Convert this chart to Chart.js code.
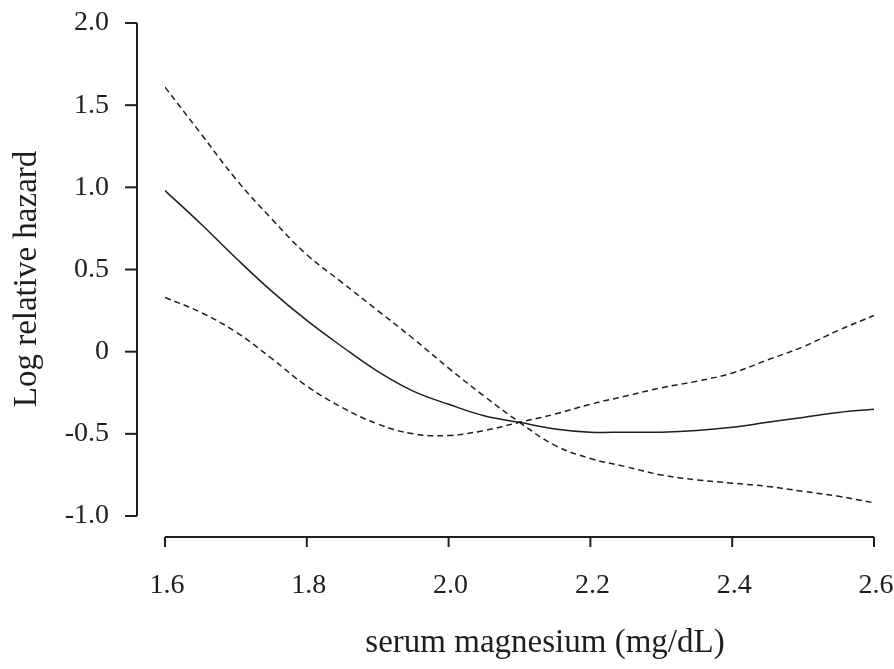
<!DOCTYPE html>
<html>
<head>
<meta charset="utf-8">
<script src="https://cdn.jsdelivr.net/npm/chart.js@4.4.1/dist/chart.umd.min.js"></script>
<style>
  html, body { margin: 0; padding: 0; background: #fff; }
  #wrap { width: 894px; height: 669px; }
</style>
</head>
<body>
<div id="wrap"><canvas id="hazardChart" width="894" height="669"></canvas></div>
<script>
// serum magnesium (mg/dL)
const magnesium = [1.60, 1.65, 1.70, 1.75, 1.80, 1.85, 1.90, 1.95, 2.00, 2.05, 2.10,
                   2.15, 2.20, 2.25, 2.30, 2.35, 2.40, 2.45, 2.50, 2.55, 2.60];
// log relative hazard estimate
const logHazard = [0.98, 0.78, 0.57, 0.37, 0.19, 0.03, -0.12, -0.24, -0.32, -0.39, -0.43,
                   -0.47, -0.49, -0.49, -0.49, -0.48, -0.46, -0.43, -0.40, -0.37, -0.35];
// confidence band
const upperBand = [1.61, 1.33, 1.05, 0.81, 0.59, 0.42, 0.25, 0.08, -0.10, -0.27, -0.43,
                   -0.57, -0.65, -0.70, -0.75, -0.78, -0.80, -0.82, -0.85, -0.88, -0.92];
const lowerBand = [0.33, 0.24, 0.12, -0.04, -0.21, -0.34, -0.44, -0.50, -0.51, -0.48, -0.43,
                   -0.38, -0.32, -0.27, -0.22, -0.18, -0.13, -0.05, 0.03, 0.13, 0.22];

const xTicks = [1.6, 1.8, 2.0, 2.2, 2.4, 2.6];
const xTickLabels = ['1.6', '1.8', '2.0', '2.2', '2.4', '2.6'];
const yTicks = [2.0, 1.5, 1.0, 0.5, 0, -0.5, -1.0];
const yTickLabels = ['2.0', '1.5', '1.0', '0.5', '0', '-0.5', '-1.0'];

const FONT = '"Liberation Serif", "Times New Roman", serif';
const INK = '#1e1e1e';

function toPoints(ys) {
    return magnesium.map((x, i) => ({ x, y: ys[i] }));
}

// R-style detached axes, drawn from the chart's scales
const detachedAxes = {
    id: 'detachedAxes',
    afterDraw(chart) {
        const ctx = chart.ctx;
        const xs = chart.scales.x;
        const ys = chart.scales.y;
        ctx.save();
        ctx.strokeStyle = INK;
        ctx.fillStyle = INK;
        ctx.lineWidth = 2;

        // y axis
        const axX = 137;
        ctx.beginPath();
        ctx.moveTo(axX, ys.getPixelForValue(yTicks[0]));
        ctx.lineTo(axX, ys.getPixelForValue(yTicks[yTicks.length - 1]));
        ctx.stroke();
        ctx.font = '28px ' + FONT;
        ctx.textAlign = 'right';
        ctx.textBaseline = 'middle';
        yTicks.forEach((v, i) => {
            const py = ys.getPixelForValue(v);
            ctx.beginPath();
            ctx.moveTo(axX, py);
            ctx.lineTo(axX - 12, py);
            ctx.stroke();
            ctx.fillText(yTickLabels[i], 109, py);
        });

        // x axis
        const axY = 537;
        ctx.beginPath();
        ctx.moveTo(xs.getPixelForValue(xTicks[0]), axY);
        ctx.lineTo(xs.getPixelForValue(xTicks[xTicks.length - 1]), axY);
        ctx.stroke();
        ctx.textAlign = 'center';
        ctx.textBaseline = 'alphabetic';
        xTicks.forEach((v, i) => {
            const px = xs.getPixelForValue(v);
            ctx.beginPath();
            ctx.moveTo(px, axY);
            ctx.lineTo(px, axY + 10);
            ctx.stroke();
            ctx.fillText(xTickLabels[i], px + 2, 593);
        });

        // axis titles
        ctx.font = '33px ' + FONT;
        ctx.fillText('serum magnesium (mg/dL)', 545, 652);
        ctx.translate(36, 279);
        ctx.rotate(-Math.PI / 2);
        ctx.fillText('Log relative hazard', 0, 0);
        ctx.restore();
    }
};

window.onload = () => {
    new Chart(document.getElementById('hazardChart').getContext('2d'), {
        type: 'line',
        data: {
            datasets: [
                { data: toPoints(logHazard), borderColor: INK, borderWidth: 1.5 },
                { data: toPoints(upperBand), borderColor: INK, borderWidth: 1.5, borderDash: [6, 4] },
                { data: toPoints(lowerBand), borderColor: INK, borderWidth: 1.5, borderDash: [6, 4] },
            ],
        },
        options: {
            responsive: false,
            animation: false,
            layout: { padding: { left: 165, right: 20, top: 23, bottom: 153 } },
            elements: { point: { radius: 0 }, line: { tension: 0.4, fill: false } },
            plugins: { legend: { display: false }, tooltip: { enabled: false } },
            scales: {
                x: { type: 'linear', min: 1.6, max: 2.6, display: false },
                y: { type: 'linear', min: -1.0, max: 2.0, display: false },
            },
        },
        plugins: [detachedAxes],
    });
};
</script>
</body>
</html>
